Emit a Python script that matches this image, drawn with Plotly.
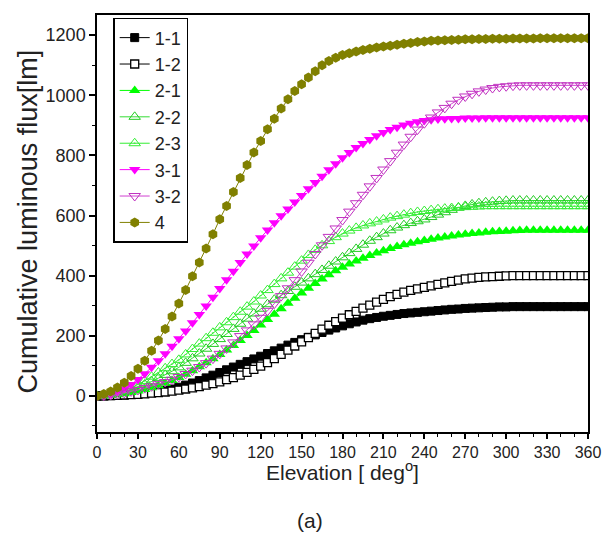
import plotly.graph_objects as go

elevation = [0, 5, 10, 15, 20, 25, 30, 35, 40, 45, 50, 55, 60, 65, 70, 75, 80, 85, 90, 95,
             100, 105, 110, 115, 120, 125, 130, 135, 140, 145, 150, 155, 160, 165, 170, 175,
             180, 185, 190, 195, 200, 205, 210, 215, 220, 225, 230, 235, 240, 245, 250, 255,
             260, 265, 270, 275, 280, 285, 290, 295, 300, 305, 310, 315, 320, 325, 330, 335,
             340, 345, 350, 355, 360]

s1_1 = [0, 0, 1, 2, 3, 5, 7, 9, 11, 14, 18, 23, 29, 36, 43, 51, 60, 69, 78, 87,
        96, 105, 114, 123, 132, 141, 150, 159, 169, 178, 187, 195, 203, 211, 219, 226,
        233, 240, 246, 252, 257, 261, 265, 268, 271, 274, 276, 278, 280, 282, 284, 286,
        288, 289, 291, 292, 293, 294, 295, 296, 296, 297, 297, 297, 297, 297, 297, 297,
        297, 297, 297, 297, 297]
s1_2 = [0, 0, 1, 2, 3, 4, 5, 7, 9, 11, 13, 16, 19, 23, 27, 31, 36, 41, 47, 54,
        61, 69, 78, 88, 99, 111, 124, 138, 152, 166, 180, 194, 208, 222, 235, 247,
        259, 270, 281, 292, 302, 312, 321, 330, 338, 345, 351, 356, 361, 366, 371, 376,
        381, 385, 389, 392, 394, 396, 397, 398, 399, 400, 400, 400, 400, 400, 400, 400,
        400, 400, 400, 400, 400]
s2_1 = [0, 1, 2, 4, 7, 11, 16, 21, 27, 34, 42, 51, 61, 72, 84, 97, 110, 124, 138, 153,
        168, 184, 201, 218, 236, 254, 272, 290, 308, 325, 342, 358, 374, 389, 403, 416,
        428, 439, 449, 458, 467, 475, 483, 490, 497, 503, 508, 513, 517, 521, 525, 529,
        532, 535, 538, 540, 542, 544, 546, 547, 548, 549, 550, 551, 551, 551, 551, 551,
        551, 551, 551, 551, 551]
s2_2 = [0, 1, 4, 8, 14, 21, 29, 38, 48, 59, 70, 82, 95, 110, 125, 141, 157, 173, 189, 206,
        223, 240, 257, 274, 290, 305, 320, 335, 349, 363, 377, 391, 405, 419, 433, 447,
        461, 475, 489, 503, 516, 528, 540, 551, 560, 568, 575, 581, 587, 595, 603, 611,
        619, 626, 632, 637, 641, 644, 646, 648, 649, 650, 650, 650, 650, 650, 650, 650,
        650, 650, 650, 650, 650]
s2_3 = [0, 2, 5, 10, 18, 27, 38, 50, 64, 78, 92, 106, 120, 138, 156, 174, 192, 210, 228, 245,
        262, 280, 297, 314, 334, 352, 372, 391, 410, 430, 450, 469, 486, 501, 515, 528,
        540, 550, 559, 567, 574, 580, 587, 593, 598, 603, 608, 612, 615, 618, 621, 623,
        625, 627, 628, 629, 630, 631, 631, 631, 631, 631, 631, 631, 631, 631, 631, 631,
        631, 631, 631, 631, 631]
s3_1 = [0, 2, 6, 13, 24, 38, 55, 74, 95, 117, 140, 165, 190, 216, 243, 271, 299, 328, 357, 386,
        415, 444, 472, 499, 526, 552, 576, 599, 622, 645, 667, 689, 710, 731, 752, 772,
        792, 810, 826, 840, 853, 865, 876, 886, 894, 901, 907, 912, 916, 919, 921, 922,
        923, 923, 924, 924, 924, 925, 925, 925, 925, 925, 925, 925, 925, 925, 925, 925,
        925, 925, 925, 925, 925]
s3_2 = [0, 1, 3, 6, 10, 15, 20, 26, 32, 39, 46, 54, 63, 73, 84, 96, 109, 124, 140, 158,
        178, 199, 218, 238, 260, 283, 307, 332, 358, 385, 414, 443, 472, 501, 529, 557,
        585, 613, 641, 669, 697, 725, 753, 781, 809, 836, 862, 886, 907, 926, 943, 958,
        972, 985, 996, 1005, 1013, 1019, 1024, 1028, 1030, 1032, 1033, 1033, 1033, 1033, 1033, 1033,
        1033, 1033, 1033, 1033, 1033]
s4 = [0, 6, 15, 28, 44, 66, 90, 117, 150, 184, 223, 264, 307, 352, 398, 444, 490, 538, 588, 632,
      678, 725, 768, 810, 848, 887, 922, 956, 987, 1014, 1037, 1059, 1080, 1100, 1114, 1125,
      1134, 1140, 1146, 1151, 1155, 1159, 1162, 1165, 1168, 1171, 1174, 1177, 1179, 1181, 1182, 1183,
      1184, 1185, 1186, 1186, 1187, 1187, 1188, 1188, 1188, 1189, 1189, 1189, 1189, 1190, 1190, 1190,
      1190, 1190, 1190, 1190, 1190]

names = ["1-1", "1-2", "2-1", "2-2", "2-3", "3-1", "3-2", "4"]
series = [s1_1, s1_2, s2_1, s2_2, s2_3, s3_1, s3_2, s4]
for s in series:
    assert len(s) == len(elevation), len(s)

styles = [
    dict(symbol="square", size=8, color="black", lc="black", lw=1, line="black"),
    dict(symbol="square", size=8, color="white", lc="black", lw=1.3, line="black"),
    dict(symbol="triangle-up", size=10, color="#00FF00", lc="#00FF00", lw=0, line="#00FF00"),
    dict(symbol="triangle-up-open", size=10, color="#22CC22", lc="#22CC22", lw=1, line="#33DD33"),
    dict(symbol="triangle-up-open-dot", size=10, color="#33EE33", lc="#33EE33", lw=1, line="#33EE33"),
    dict(symbol="triangle-down", size=10, color="#FF00FF", lc="#FF00FF", lw=0, line="#FF00FF"),
    dict(symbol="triangle-down-open", size=10, color="#C030C0", lc="#C030C0", lw=1, line="#D040D0"),
    dict(symbol="hexagon", size=10, color="#808000", lc="#808000", lw=0, line="#808000"),
]

fig = go.Figure()
for name, vals, st in zip(names, series, styles):
    fig.add_trace(go.Scatter(
        x=elevation, y=vals, name=name, mode="lines+markers",
        line=dict(color=st["line"], width=1),
        marker=dict(symbol=st["symbol"], size=st["size"], color=st["color"],
                    line=dict(color=st["lc"], width=st["lw"])),
    ))

FONT = "Liberation Sans, Arial, sans-serif"

# the page body has an 8px margin, so the figure is drawn 8px smaller and offset
fig.update_layout(
    width=608, height=543,
    margin=dict(l=89, r=28, t=7, b=119, autoexpand=False),
    paper_bgcolor="white", plot_bgcolor="white",
    showlegend=True,
    legend=dict(x=0.033, y=0.993, xanchor="left", yanchor="top",
                bordercolor="black", borderwidth=1.5, bgcolor="white",
                font=dict(family=FONT, size=18, color="#222"),
                tracegroupgap=0),
    xaxis=dict(range=[0, 360], tick0=0, dtick=30, ticks="outside", ticklen=5, tickwidth=1.5,
               tickcolor="black", minor=dict(dtick=10, ticks="outside", ticklen=3, tickwidth=1.2,
                                             tickcolor="black"),
               showline=True, linecolor="black", linewidth=1.5, mirror=True, automargin=False,
               showgrid=False, zeroline=False,
               tickfont=dict(family=FONT, size=16, color="#222")),
    yaxis=dict(range=[-120, 1267], tick0=0, dtick=200, ticks="outside", ticklen=6, tickwidth=1.5,
               tickcolor="black", minor=dict(dtick=100, ticks="outside", ticklen=3, tickwidth=1.2,
                                             tickcolor="black"),
               showline=True, linecolor="black", linewidth=1.5, mirror=True, automargin=False,
               showgrid=False, zeroline=False,
               tickfont=dict(family=FONT, size=18, color="#222")),
    annotations=[
        dict(text="Cumulative luminous flux[lm]", xref="paper", yref="paper",
             x=-0.1405, y=0.505, xanchor="center", yanchor="middle", textangle=-90,
             showarrow=False,
             font=dict(family=FONT, size=27, color="#222")),
        dict(text="Elevation [ deg<sup>o</sup>]", xref="paper", yref="paper",
             x=0.5, y=-0.093, xanchor="center", yanchor="middle", showarrow=False,
             font=dict(family=FONT, size=21, color="#222")),
        dict(text="(a)", xref="paper", yref="paper",
             x=0.434, y=-0.213, xanchor="center", yanchor="middle", showarrow=False,
             font=dict(family=FONT, size=21, color="#222")),
    ],
)

fig.write_html("out.html")
